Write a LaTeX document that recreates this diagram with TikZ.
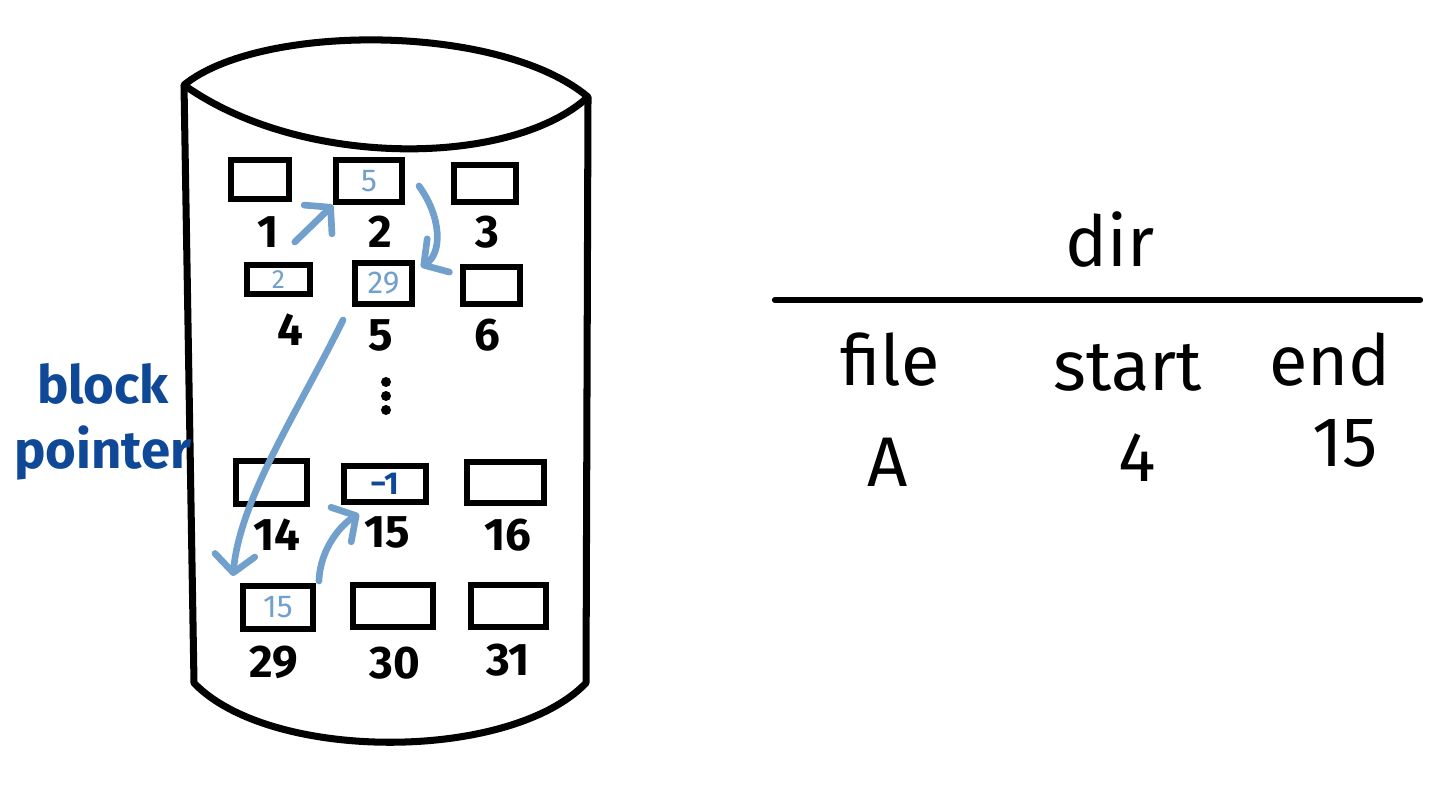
\documentclass[tikz,border=0pt]{standalone}
\usepackage{fontspec}
\setmainfont{Fira Sans}
\usetikzlibrary{arrows.meta,positioning}
\definecolor{ptrblue}{RGB}{114,160,204}
\definecolor{inkblue}{RGB}{14,72,150}

\begin{document}
\begin{tikzpicture}[x=0.02cm, y=0.02cm,
	blk/.style 2 args={draw, line width=3.4pt, inner sep=0pt, minimum width=#1*0.02cm, minimum height=#2*0.02cm},
	num/.style={font=\fontsize{26}{30}\selectfont\bfseries},
	val/.style={text=ptrblue, font=\fontsize{18}{22}\selectfont},
	ptr/.style={draw=ptrblue, line width=3.8pt, line cap=round, -{Straight Barb[length=3.5mm, width=8mm, round]}},
	hand/.style={font=\fontsize{40}{44}\selectfont}]
	\useasboundingbox[fill=white] (0,0) rectangle (1439,798);
	
	% disk
	\draw[line width=4pt, line join=round] (184,713) .. controls (260,775) and (500,775) .. (588,701) -- (586,115) .. controls (510,36) and (270,36) .. (194,115) -- cycle;
	\draw[line width=4pt] (184,713) .. controls (300,630) and (510,630) .. (588,701);
	
	% blocks
	\node[blk={58}{39}] (b1) at (260,618.5) {};
	\node[blk={66}{42}, val] (b2) at (369,617) {5};
	\node[blk={62}{37}] (b3) at (485,614.5) {};
	\node[blk={63}{29}, val, font=\fontsize{15}{18}\selectfont] (b4) at (278.5,518.5) {2};
	\node[blk={57}{41}, val] (b5) at (383.5,514.5) {29};
	\node[blk={57}{37}] (b6) at (491.5,512.5) {};
	\node[blk={71}{43}] (b14) at (271.5,315.5) {};
	\node[blk={82}{36}, val, text=inkblue, font=\fontsize{18}{22}\selectfont\bfseries] (b15) at (385,314) {−1};
	\node[blk={77}{41}] (b16) at (505.5,315.5) {};
	\node[blk={70}{43}, val] (b29) at (278,190.5) {15};
	\node[blk={80}{42}] (b30) at (393,192) {};
	\node[blk={75}{42}] (b31) at (508.5,192) {};
	
	% block numbers
	\node[num] (n1) at (268,566) {1};
	\node[num] (n2) at (380,566) {2};
	\node[num] (n3) at (487,566) {3};
	\node[num] (n4) at (290,468) {4};
	\node[num] (n5) at (381,463) {5};
	\node[num] (n6) at (487,463) {6};
	\node[num] (n14) at (277,263) {14};
	\node[num] (n15) at (387,266) {15};
	\node[num] (n16) at (508,263) {16};
	\node[num] (n29) at (274,136) {29};
	\node[num] (n30) at (395,135) {30};
	\node[num] (n31) at (508,138) {31};
	\foreach \y in {416,402,388} \fill (386,\y) circle (5);
	
	\node[text=inkblue, font=\fontsize{30}{37}\selectfont\bfseries, align=center] (bp) at (103,376) {block\\pointer};
	
	% pointer chain
	\draw[ptr] ([shift={(10,-10)}]n1.east) -- (b2.south west);
	\draw[ptr] ([shift={(14,-5)}]b2.east) .. controls (442,580) and (442,545) .. ([shift={(6,-7)}]b5.north east);
	\draw[ptr] ([shift={(-9,-13)}]b5.south west) .. controls (300,390) and (240,300) .. ([shift={(-7,7)}]b29.north west);
	\draw[ptr] ([shift={(3,2)}]b29.north east) .. controls (320,250) and (342,274) .. ([shift={(18,-9)}]b15.south west);
	
	% dir table
	\node[hand] (dir) at (1110,558) {dir};
	\coordinate (hl) at (775,498);
	\coordinate (hr) at (1420,498);
	\draw[line width=3.6pt, line cap=round] (hl) -- (hr);
	\node[hand] (file) at (890,438) {file};
	\node[hand] (start) at (1128,430) {start};
	\node[hand] (end) at (1330,438) {end};
	\node[hand] (fa) at (888,336) {A};
	\node[hand] (fs) at (1137,340) {4};
	\node[hand] (fe) at (1345,355) {15};
\end{tikzpicture}
\end{document}
